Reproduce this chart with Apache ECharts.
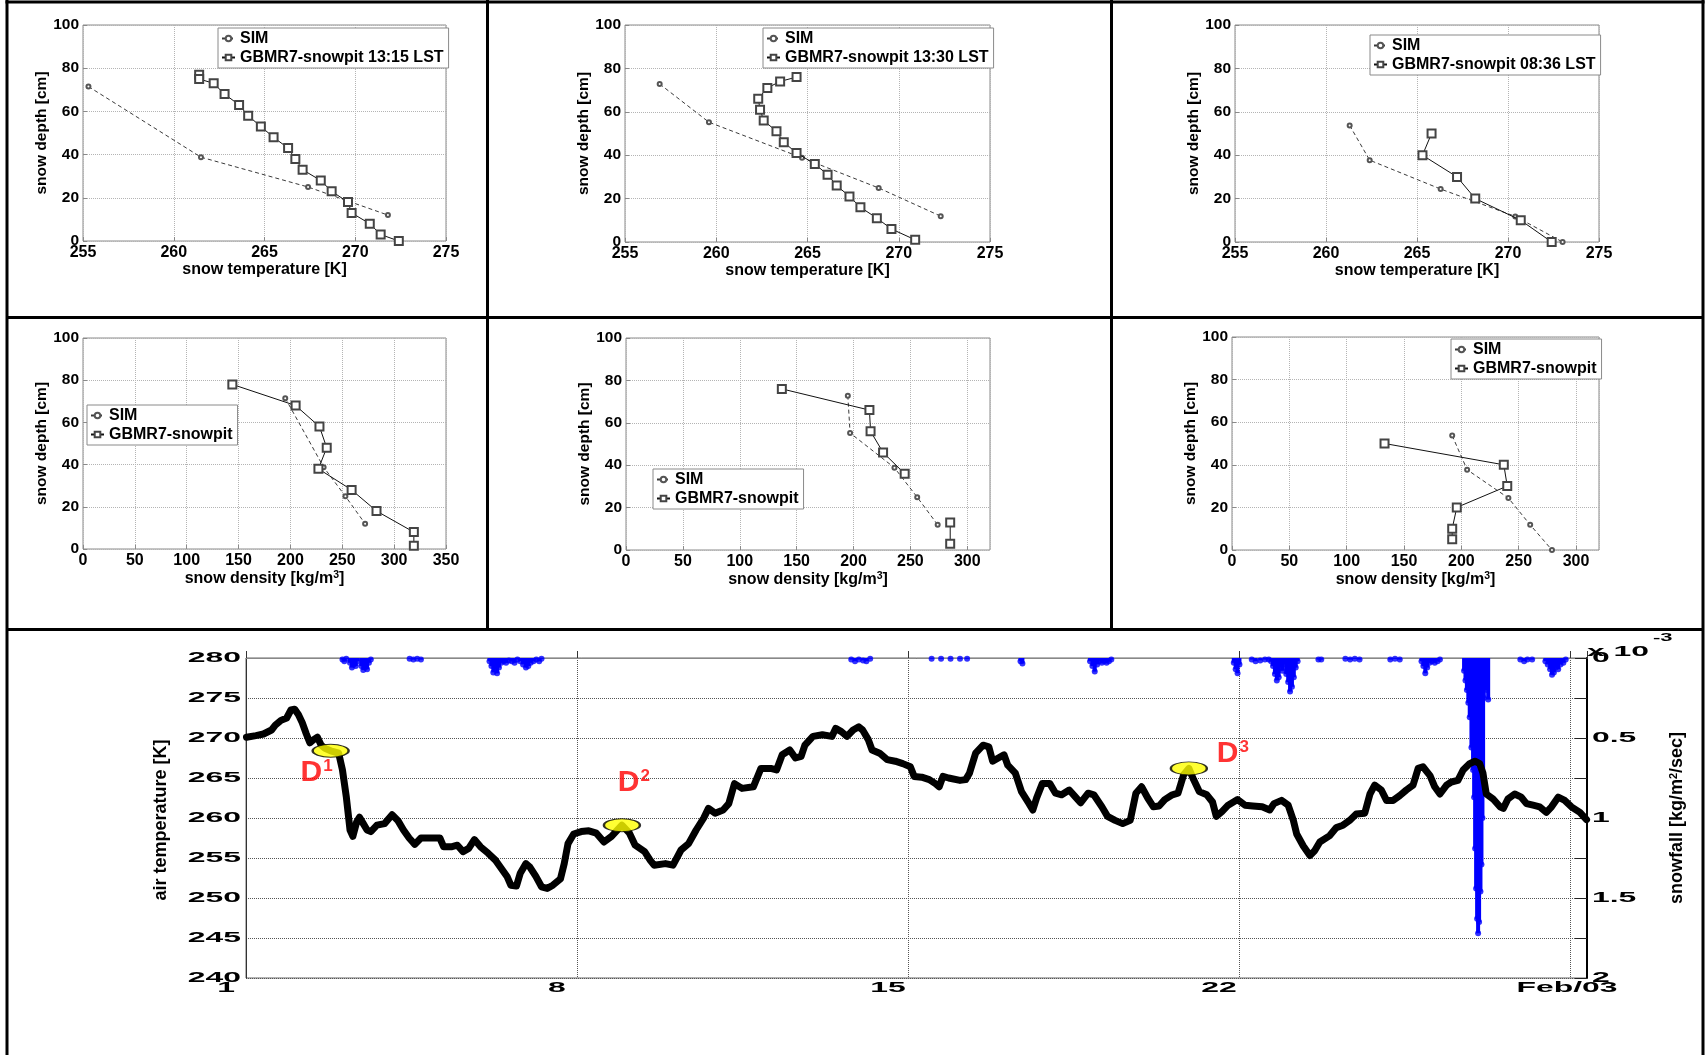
<!DOCTYPE html>
<html>
<head>
<meta charset="utf-8">
<title>GBMR7 snow profiles and January air temperature / snowfall</title>
<script src="https://cdn.jsdelivr.net/npm/echarts@6/dist/echarts.min.js"></script>
<style>
  html, body { margin: 0; padding: 0; background: #fff; }
  #chart { width: 1705px; height: 1055px; }
</style>
</head>
<body>
<div id="chart"></div>
<script>
// ---------------- profile data: snow temperature (top row) ----------------
const simDepth1 = [71.5, 38.8, 25.0, 12.0];
const simTemp1  = [255.3, 261.5, 267.4, 271.8];
const pitDepth1 = [77, 75, 73, 68, 63, 58, 53, 48, 43, 38, 33, 28, 23, 18, 13, 8, 3, 0];
const pitTemp1  = [261.4, 261.4, 262.2, 262.8, 263.6, 264.1, 264.8, 265.5, 266.3, 266.7, 267.1, 268.1, 268.7, 269.6, 269.8, 270.8, 271.4, 272.4];

const simDepth2 = [72.8, 55.2, 38.8, 24.9, 11.9];
const simTemp2  = [256.9, 259.6, 264.7, 268.9, 272.3];
const pitDepth2 = [76, 74, 71, 66, 61, 56, 51, 46, 41, 36, 31, 26, 21, 16, 11, 6, 1];
const pitTemp2  = [264.4, 263.5, 262.8, 262.3, 262.4, 262.6, 263.3, 263.7, 264.4, 265.4, 266.1, 266.6, 267.3, 267.9, 268.8, 269.6, 270.9];

const simDepth3 = [53.7, 37.7, 24.4, 11.8, 0];
const simTemp3  = [261.3, 262.4, 266.3, 270.4, 273.0];
const pitDepth3 = [50, 40, 30, 20, 10, 0];
const pitTemp3  = [265.8, 265.3, 267.2, 268.2, 270.7, 272.4];

// ---------------- profile data: snow density (middle row) ----------------
const simDens1    = [195, 232, 253, 272];
const pitDenDepth1 = [78, 68, 58, 48, 38, 28, 18, 8, 1.5];
const pitDens1    = [144, 205, 228, 235, 227, 259, 283, 319, 319];

const simDens2    = [195, 197, 236, 256, 274];
const pitDenDepth2 = [76, 66, 56, 46, 36, null, 13, 3];
const pitDens2    = [137, 214, 215, 226, 245, null, 285, 285];

const simDens3    = [192, 205, 241, 260, 279];
const pitDenDepth3 = [50, 40, 30, 20, 10, 5];
const pitDens3    = [133, 237, 240, 196, 192, 192];

const simName = 'SIM';
const pitNames = ['GBMR7-snowpit 13:15 LST', 'GBMR7-snowpit 13:30 LST', 'GBMR7-snowpit 08:36 LST', 'GBMR7-snowpit'];

// ---------------- air temperature time series (bottom) ----------------
const airDay = [
  1.01, 1.21, 1.37, 1.54, 1.62, 1.74, 1.86, 1.95, 2.03, 2.11, 2.19, 2.27, 2.35, 2.43, 2.51, 2.59, 2.67, 2.79, 2.96,
  3.04, 3.12, 3.20, 3.26, 3.34, 3.40, 3.48, 3.56, 3.64, 3.77, 3.93, 4.09, 4.21, 4.33, 4.45, 4.57, 4.70, 4.94,
  5.10, 5.18, 5.34, 5.47, 5.59, 5.71, 5.83, 5.96, 6.12, 6.28, 6.40, 6.52, 6.60, 6.72, 6.80, 6.92, 7.00, 7.13,
  7.25, 7.37, 7.49, 7.65, 7.73, 7.81, 7.93, 8.09, 8.25, 8.41, 8.57, 8.73, 8.95, 9.11, 9.23, 9.43, 9.55, 9.63,
  9.87, 10.03, 10.20, 10.36, 10.52, 10.68, 10.78, 10.92, 11.09, 11.21, 11.33, 11.49, 11.73, 11.89, 12.10, 12.22,
  12.34, 12.50, 12.62, 12.74, 12.82, 12.99, 13.19, 13.39, 13.47, 13.59, 13.71, 13.84, 13.96, 14.04, 14.16, 14.24,
  14.40, 14.56, 14.73, 14.89, 15.05, 15.13, 15.29, 15.45, 15.58, 15.66, 15.74, 15.86, 16.10, 16.22, 16.30, 16.43,
  16.59, 16.71, 16.79, 16.91, 17.03, 17.11, 17.27, 17.40, 17.56, 17.64, 17.72, 17.84, 18.00, 18.12, 18.25, 18.41,
  18.53, 18.65, 18.81, 18.93, 19.10, 19.22, 19.38, 19.54, 19.70, 19.82, 19.94, 20.07, 20.19, 20.31, 20.43, 20.59,
  20.71, 20.83, 20.94, 21.04, 21.16, 21.32, 21.44, 21.52, 21.64, 21.77, 21.97, 22.13, 22.29, 22.49, 22.65, 22.74,
  22.90, 23.04, 23.15, 23.22, 23.36, 23.50, 23.60, 23.71, 23.92, 24.06, 24.20, 24.34, 24.48, 24.66, 24.77, 24.87,
  25.01, 25.12, 25.26, 25.40, 25.54, 25.68, 25.79, 25.89, 26.04, 26.14, 26.25, 26.39, 26.49, 26.63, 26.74, 26.88,
  26.99, 27.09, 27.16, 27.23, 27.37, 27.52, 27.59, 27.69, 27.83, 27.97, 28.08, 28.22, 28.36, 28.50, 28.61, 28.75,
  28.89, 29.03, 29.21, 29.35
];
const airTemp = [
  270.1, 270.3, 270.5, 271.0, 271.6, 272.2, 272.5, 273.5, 273.6, 272.9, 271.9, 270.6, 269.4, 269.8, 270.1, 269.1, 268.7, 268.4, 268.1,
  266.0, 262.7, 258.5, 257.7, 259.5, 260.1, 259.3, 258.5, 258.3, 259.1, 259.3, 260.4, 259.7, 258.5, 257.5, 256.7, 257.5, 257.5,
  257.5, 256.4, 256.4, 256.6, 255.8, 256.2, 257.3, 256.4, 255.6, 254.7, 253.7, 252.7, 251.6, 251.5, 253.1, 254.3, 253.9, 252.7,
  251.4, 251.2, 251.6, 252.4, 254.3, 256.8, 258.0, 258.3, 258.4, 258.1, 257.0, 257.7, 259.1, 258.1, 256.6, 255.8, 254.7, 254.1,
  254.3, 254.1, 256.0, 256.8, 258.5, 260.0, 261.2, 260.6, 261.0, 261.8, 264.3, 263.7, 263.9, 266.2, 266.2, 266.0,
  267.9, 268.5, 267.5, 267.7, 269.1, 270.2, 270.4, 270.2, 271.2, 270.8, 270.2, 271.0, 271.4, 271.0, 269.8, 268.5,
  268.1, 267.3, 267.1, 266.8, 266.4, 265.2, 265.1, 264.8, 264.3, 263.9, 265.2, 265.0, 264.7, 264.8, 265.6, 268.1,
  269.1, 268.9, 267.1, 267.5, 267.9, 266.6, 265.6, 263.3, 261.8, 261.0, 262.5, 264.3, 264.3, 263.1, 262.9, 263.5,
  262.7, 261.9, 263.1, 262.9, 261.4, 260.2, 259.7, 259.3, 259.7, 263.1, 263.9, 262.5, 261.4, 261.5, 262.3, 262.9,
  263.1, 265.4, 266.2, 264.8, 263.3, 262.9, 262.0, 260.2, 260.8, 261.6, 262.3, 261.6, 261.5, 261.4, 261.0, 261.8,
  262.2, 261.6, 259.7, 258.0, 256.5, 255.3, 255.9, 257.0, 257.8, 258.8, 259.1, 259.7, 260.5, 260.6, 263.0, 264.1,
  263.5, 262.2, 262.2, 262.8, 263.5, 264.1, 266.2, 266.4, 265.3, 263.9, 263.0, 264.1, 264.5, 264.7, 266.0, 266.8,
  267.1, 266.8, 265.6, 263.0, 262.4, 261.4, 261.2, 262.4, 263.0, 262.6, 261.8, 261.6, 261.4, 260.7, 261.4, 262.6,
  262.2, 261.4, 260.7, 259.8
];

// ---------------- snowfall rate, units of 1e-3 kg/m^2/sec ----------------
const snowDay = [
  3.04, 3.08, 3.12, 3.20, 3.24, 3.28, 3.32, 3.36, 3.44, 3.48, 3.52, 3.56, 3.60, 3.64,
  4.46, 4.54, 4.62, 4.70,
  6.15, 6.19, 6.23, 6.27, 6.31, 6.35, 6.40, 6.45, 6.50, 6.56, 6.62, 6.68, 6.74, 6.80, 6.86, 6.92, 6.97, 7.02, 7.08, 7.14, 7.20, 7.25,
  13.80, 13.88, 13.96, 14.05, 14.12, 14.20,
  15.50, 15.70, 15.90, 16.10, 16.25,
  17.38, 17.42,
  18.85, 18.90, 18.95, 19.00, 19.05, 19.10, 19.15, 19.20, 19.25, 19.30,
  21.89, 21.93, 21.97, 22.01,
  22.27, 22.35, 22.45, 22.55, 22.63,
  22.68, 22.72, 22.76, 22.80, 22.84, 22.88, 22.92, 22.96, 23.00, 23.04, 23.08, 23.12, 23.16, 23.20, 23.24,
  23.68, 23.74,
  24.25, 24.35, 24.45, 24.55,
  25.20, 25.30, 25.40,
  25.86, 25.90, 25.94, 25.98, 26.03, 26.08, 26.14, 26.20, 26.25,
  26.760, 26.790, 26.820, 26.850, 26.880, 26.916, 26.950, 26.973, 26.994, 27.015, 27.036, 27.057, 27.078, 27.107, 27.128, 27.149, 27.163, 27.177,
  27.245, 27.270,
  27.95, 28.03, 28.10, 28.20,
  28.48, 28.53, 28.58, 28.62, 28.66, 28.70, 28.75, 28.80, 28.86, 28.91
];
const snowRate = [
  0.010, 0.020, 0.005, 0.030, 0.060, 0.040, 0.050, 0.020, 0.050, 0.075, 0.060, 0.070, 0.030, 0.010,
  0.005, 0.010, 0.005, 0.010,
  0.020, 0.050, 0.090, 0.070, 0.096, 0.060, 0.030, 0.020, 0.030, 0.015, 0.020, 0.030, 0.010, 0.020, 0.040, 0.060, 0.050, 0.030, 0.020, 0.010, 0.020, 0.005,
  0.010, 0.020, 0.010, 0.015, 0.020, 0.005,
  0.005, 0.005, 0.005, 0.005, 0.005,
  0.020, 0.035,
  0.020, 0.050, 0.085, 0.040, 0.020, 0.030, 0.020, 0.030, 0.020, 0.010,
  0.030, 0.070, 0.095, 0.040,
  0.010, 0.020, 0.015, 0.010, 0.010,
  0.020, 0.050, 0.100, 0.140, 0.120, 0.060, 0.080, 0.040, 0.100, 0.150, 0.210, 0.180, 0.120, 0.060, 0.020,
  0.010, 0.010,
  0.005, 0.010, 0.005, 0.010,
  0.010, 0.005, 0.010,
  0.020, 0.050, 0.095, 0.060, 0.030, 0.020, 0.030, 0.020, 0.010,
  0.080, 0.140, 0.200, 0.280, 0.370, 0.560, 0.700, 0.870, 1.190, 1.440, 1.630, 1.720, 1.650, 1.460, 1.290, 1.000, 0.800, 0.250,
  0.200, 0.260,
  0.010, 0.020, 0.010, 0.010,
  0.020, 0.040, 0.070, 0.105, 0.090, 0.060, 0.070, 0.040, 0.030, 0.010
];

// snowpit dates marked on the temperature record
const eventDay  = [2.79, 8.95, 20.94];
const eventTemp = [268.4, 259.1, 266.2];
const eventTag  = ['1', '2', '3'];

// axis ranges and tick labels
const tempXRange = [255, 275];
const densXRange1 = [0, 350];
const densXRange2 = [0, 320];
const depthRange = [0, 100];
const airDayRange = [1, 29.36];
const airTempRange = [240, 280];
const snowRange = [0, 2];
const airTempTicks = [240, 245, 250, 255, 260, 265, 270, 275, 280];
const snowTicks = [0, 0.5, 1, 1.5, 2];
const snowTickLabels = ['0', '0.5', '1', '1.5', '2'];
const dayTicks = [1, 8, 15, 22, airDayRange[1]];
const dayTickLabels = ['1', '8', '15', '22', 'Feb/03'];

// ---------------- styling helpers ----------------
const FONT = "'Liberation Sans', Arial, Helvetica, sans-serif";
const NARROW = "'Liberation Sans Narrow', 'Arial Narrow', 'Liberation Sans', sans-serif";
const STRETCH = 2.2;   // the time-series axis lettering is drawn extended

function pairs(xs, ys) {
  return xs.map((x, i) => (x == null || ys[i] == null) ? ['-', '-'] : [x, ys[i]]);
}

const supRich = {
  n: { fontFamily: FONT, fontSize: 16, fontWeight: 'bold', color: '#000', lineHeight: 17, verticalAlign: 'bottom' },
  s: { fontFamily: FONT, fontSize: 10.5, fontWeight: 'bold', color: '#000', lineHeight: 10, verticalAlign: 'top', padding: [0, 0, 13, 0] }
};

// layout of the six profile panels
const panels = [
  { grid: { left: 83,   top: 25,  width: 363, height: 216 }, xr: tempXRange,  kind: 'T', yGap: 28, legend: { left: 218,  top: 28 },
    sim: [simTemp1, simDepth1], pit: [pitTemp1, pitDepth1], pitName: pitNames[0] },
  { grid: { left: 625,  top: 25,  width: 365, height: 217 }, xr: tempXRange,  kind: 'T', yGap: 27, legend: { left: 763,  top: 28 },
    sim: [simTemp2, simDepth2], pit: [pitTemp2, pitDepth2], pitName: pitNames[1] },
  { grid: { left: 1235, top: 25,  width: 364, height: 217 }, xr: tempXRange,  kind: 'T', yGap: 29, legend: { left: 1370, top: 35 },
    sim: [simTemp3, simDepth3], pit: [pitTemp3, pitDepth3], pitName: pitNames[2] },
  { grid: { left: 83,   top: 338, width: 363, height: 211 }, xr: densXRange1, kind: 'D', yGap: 28, legend: { left: 87,   top: 405 },
    sim: [simDens1, simDepth1], pit: [pitDens1, pitDenDepth1], pitName: pitNames[3] },
  { grid: { left: 626,  top: 338, width: 364, height: 212 }, xr: densXRange2, kind: 'D', yGap: 27, legend: { left: 653,  top: 469 },
    sim: [simDens2, simDepth2], pit: [pitDens2, pitDenDepth2], pitName: pitNames[3] },
  { grid: { left: 1232, top: 337, width: 367, height: 213 }, xr: densXRange2, kind: 'D', yGap: 20, legend: { left: 1451, top: 339 },
    sim: [simDens3, simDepth3], pit: [pitDens3, pitDenDepth3], pitName: pitNames[3] }
];

const grids = [], xAxes = [], yAxes = [], legends = [], series = [];

panels.forEach((p, i) => {
  grids.push(Object.assign({ show: true, backgroundColor: '#fff', borderColor: '#8a8a8a', borderWidth: 1, outerBoundsMode: 'none' }, p.grid));
  xAxes.push({
    type: 'value', gridIndex: i, min: p.xr[0], max: p.xr[1], interval: p.kind === 'T' ? 5 : 50,
    axisLine: { show: false },
    axisTick: { show: true, inside: true, length: 4, lineStyle: { color: '#8a8a8a' } },
    axisLabel: { fontFamily: FONT, fontSize: 16, fontWeight: 'bold', color: '#000', margin: 4, showMaxLabel: p.xr[1] % 50 === 0 || p.kind === 'T' },
    splitLine: { show: true, lineStyle: { type: 'dotted', color: '#b4b4b4', width: 1 } },
    name: p.kind === 'T' ? 'snow temperature [K]' : '{n|snow density [kg/m}{s|3}{n|]}',
    nameLocation: 'middle', nameGap: p.kind === 'T' ? 19 : 18,
    nameTextStyle: { fontFamily: FONT, fontSize: 16, fontWeight: 'bold', color: '#000', rich: supRich }
  });
  yAxes.push({
    type: 'value', gridIndex: i, min: depthRange[0], max: depthRange[1], interval: 20,
    axisLine: { show: false },
    axisTick: { show: true, inside: true, length: 4, lineStyle: { color: '#8a8a8a' } },
    axisLabel: { fontFamily: FONT, fontSize: 15.5, fontWeight: 'bold', color: '#000', margin: 4 },
    splitLine: { show: true, lineStyle: { type: 'dotted', color: '#b4b4b4', width: 1 } },
    name: 'snow depth [cm]', nameLocation: 'middle', nameRotate: 90, nameGap: p.yGap,
    nameTextStyle: { fontFamily: FONT, fontSize: 15.5, fontWeight: 'bold', color: '#000' }
  });
  legends.push({
    left: p.legend.left, top: p.legend.top, orient: 'vertical', selectedMode: false,
    backgroundColor: '#fff', borderColor: '#8a8a8a', borderWidth: 1, padding: [1, 5, 1, 3],
    itemGap: 0, itemWidth: 13, itemHeight: 7,
    textStyle: { fontFamily: FONT, fontSize: 16, fontWeight: 'bold', color: '#000', lineHeight: 19 },
    data: [simName, p.pitName]
  });
  series.push({
    name: simName, type: 'line', xAxisIndex: i, yAxisIndex: i, data: pairs(p.sim[0], p.sim[1]),
    symbol: 'emptyCircle', symbolSize: 4, connectNulls: false,
    lineStyle: { color: '#3a3a3a', width: 1, type: [4, 3] },
    itemStyle: { color: '#555', borderColor: '#555', borderWidth: 1 }, z: 3
  });
  series.push({
    name: p.pitName, type: 'line', xAxisIndex: i, yAxisIndex: i, data: pairs(p.pit[0], p.pit[1]),
    symbol: 'emptyRect', symbolSize: 8, connectNulls: false,
    lineStyle: { color: '#111', width: 1 },
    itemStyle: { color: '#444', borderColor: '#444', borderWidth: 1.3 }, z: 4
  });
});

// ---------------- bottom panel: air temperature with snowfall ----------------
const BI = panels.length;   // index of the time-series grid / x axis
grids.push({ show: true, left: 246, top: 658, width: 1341, height: 320, backgroundColor: '#fff', borderColor: '#666', borderWidth: 1, outerBoundsMode: 'none' });
xAxes.push({
  type: 'value', gridIndex: BI, min: airDayRange[0], max: airDayRange[1], interval: 7,
  axisLine: { show: true, lineStyle: { color: '#888', width: 1 } },
  axisTick: { show: true, inside: true, length: 7, lineStyle: { color: '#333' } },
  axisLabel: { show: false },
  splitLine: { show: true, lineStyle: { type: 'dotted', color: '#555', width: 1 } }
});
yAxes.push({
  type: 'value', gridIndex: BI, min: airTempRange[0], max: airTempRange[1], interval: 5,
  axisLine: { show: true, lineStyle: { color: '#333', width: 1 } },
  axisTick: { show: false }, axisLabel: { show: false },
  splitLine: { show: true, lineStyle: { type: 'dotted', color: '#555', width: 1 } }
});
yAxes.push({
  type: 'value', gridIndex: BI, position: 'right', min: snowRange[0], max: snowRange[1], interval: 0.25, inverse: true,
  axisLine: { show: true, lineStyle: { color: '#000', width: 2 } },
  axisTick: { show: true, inside: true, length: 12, lineStyle: { color: '#222' } },
  axisLabel: { show: false }, splitLine: { show: false }
});
const snowData = pairs(snowDay, snowRate);
series.push({
  name: 'snowfall', type: 'bar', xAxisIndex: BI, yAxisIndex: BI + 1, data: snowData,
  barWidth: 4, itemStyle: { color: '#0000ff' }, z: 2, silent: true
});
series.push({
  name: 'snowfall samples', type: 'scatter', xAxisIndex: BI, yAxisIndex: BI + 1, data: snowData,
  symbol: 'circle', symbolSize: 6, itemStyle: { color: '#0000ff' }, z: 2, silent: true
});
series.push({
  name: 'air temperature', type: 'line', xAxisIndex: BI, yAxisIndex: BI, data: pairs(airDay, airTemp),
  showSymbol: false, symbol: 'none', lineStyle: { color: '#000', width: 7, join: 'round', cap: 'round' }, z: 4, silent: true
});
const eventLabelOffset = [[-14, 22], [12, -42], [44, -15]];
series.push({
  name: 'snowpit dates', type: 'scatter', xAxisIndex: BI, yAxisIndex: BI,
  symbol: 'circle', symbolSize: [36, 13],
  itemStyle: { color: '#ffff00', borderColor: '#000', borderWidth: 1.5 }, z: 6, silent: true,
  data: eventDay.map((d, i) => ({
    value: [d, eventTemp[i]],
    label: {
      show: true, position: 'inside', offset: eventLabelOffset[i],
      formatter: '{d|D}{s|' + eventTag[i] + '}',
      rich: {
        d: { fontFamily: FONT, fontSize: 30, fontWeight: 'bold', color: '#ff0000', lineHeight: 30, verticalAlign: 'bottom' },
        s: { fontFamily: FONT, fontSize: 17, fontWeight: 'bold', color: '#ff0000', lineHeight: 17, verticalAlign: 'top', padding: [0, 0, 18, 1] }
      }
    }
  }))
});

const chart = echarts.init(document.getElementById('chart'), null, { renderer: 'canvas' });
chart.setOption({
  animation: false,
  backgroundColor: '#fff',
  textStyle: { fontFamily: FONT },
  grid: grids, xAxis: xAxes, yAxis: yAxes, legend: legends, series: series
});

// ---------------- overlay: frame, extended axis lettering, axis titles ----------------
const els = [];
const seg = (x1, y1, x2, y2) => ({ type: 'line', silent: true, z: 50, shape: { x1, y1, x2, y2 }, style: { stroke: '#000', lineWidth: 3 } });
els.push(seg(5.5, 2, 1704.5, 2), seg(7, 0, 7, 1055), seg(1703, 0, 1703, 1055),
         seg(7, 317.5, 1703, 317.5), seg(7, 629.5, 1703, 629.5),
         seg(487.5, 0, 487.5, 629.5), seg(1111.5, 0, 1111.5, 629.5));

const xPix = v => chart.convertToPixel({ xAxisIndex: BI }, v);
const yTempPix = v => chart.convertToPixel({ yAxisIndex: BI }, v);
const ySnowPix = v => chart.convertToPixel({ yAxisIndex: BI + 1 }, v);
const leftPx = xPix(airDayRange[0]);
const rightPx = xPix(airDayRange[1]);
const bottomPx = yTempPix(airTempRange[0]);
const topPx = yTempPix(airTempRange[1]);

const wideText = (x, y, text, align, size) => ({
  type: 'text', x, y, scaleX: STRETCH, silent: true, z: 20,
  style: { text, fontFamily: FONT, fontSize: size || 14.5, fontWeight: 'bold', fill: '#000', align, verticalAlign: 'middle' }
});
airTempTicks.forEach(v => els.push(wideText(leftPx - 5, yTempPix(v), String(v), 'right')));
snowTicks.forEach((v, i) => els.push(wideText(rightPx + 5, ySnowPix(v), snowTickLabels[i], 'left')));
dayTicks.forEach((v, i) => els.push(wideText(xPix(v) - 20, bottomPx + 10, dayTickLabels[i], 'center')));
els.push(wideText(rightPx, topPx - 6, 'x 10', 'left'));
els.push(wideText(rightPx + 66, topPx - 20, '-3', 'left', 10));

els.push({
  type: 'text', x: leftPx - 85, y: (topPx + bottomPx) / 2 + 2, rotation: Math.PI / 2, silent: true, z: 20,
  style: { text: 'air temperature [K]', fontFamily: NARROW, fontSize: 18, fontWeight: 'bold', fill: '#000', align: 'center', verticalAlign: 'middle' }
});
els.push({
  type: 'text', x: rightPx + 90, y: (topPx + bottomPx) / 2, rotation: Math.PI / 2, silent: true, z: 20,
  style: {
    text: '{n|snowfall [kg/m}{s|2}{n|/sec]}', align: 'center', verticalAlign: 'middle',
    rich: {
      n: { fontFamily: NARROW, fontSize: 18, fontWeight: 'bold', fill: '#000', lineHeight: 18, verticalAlign: 'bottom' },
      s: { fontFamily: NARROW, fontSize: 11, fontWeight: 'bold', fill: '#000', lineHeight: 11, verticalAlign: 'top', padding: [0, 0, 16, 0] }
    }
  }
});

chart.setOption({ graphic: { elements: els } });
</script>
</body>
</html>
